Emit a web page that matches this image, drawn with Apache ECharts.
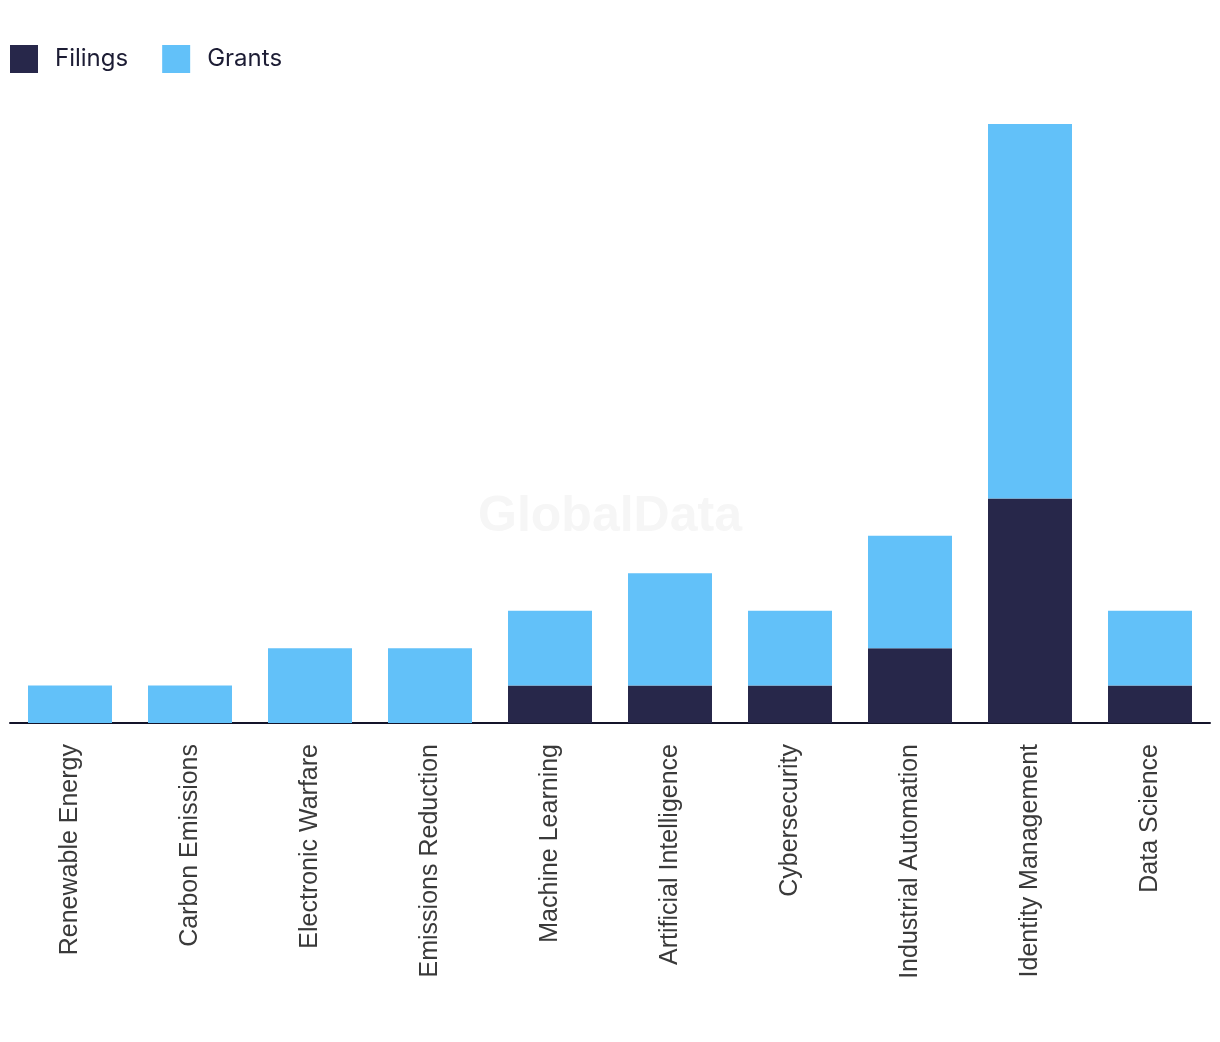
<!DOCTYPE html>
<html><head><meta charset="utf-8">
<script src="https://cdn.jsdelivr.net/npm/echarts@6/dist/echarts.min.js"></script>
<style>html,body{margin:0;padding:0;background:#fff}#c{width:1220px;height:1042px}</style>
</head><body><div id="c"></div>
<script>
const categories = ["Renewable Energy","Carbon Emissions","Electronic Warfare","Emissions Reduction","Machine Learning","Artificial Intelligence","Cybersecurity","Industrial Automation","Identity Management","Data Science"];
const filings = [0,0,0,0,1,1,1,2,6,1];
const grants = [1,1,2,2,2,3,2,3,10,2];

const chart = echarts.init(document.getElementById('c'));
chart.setOption({
  animation:false,
  graphic:[{type:'text',left:'center',top:492,z:-1,style:{text:'GlobalData',font:'bold 50px "Liberation Sans", Arial, sans-serif',fill:'#f6f6f6'}}],
  legend:{left:10,top:45,padding:0,itemWidth:28,itemHeight:28,itemGap:34,icon:'rect',
    textStyle:{fontFamily:'Inter, "Noto Sans", sans-serif',fontSize:24,color:'#1c1c34',padding:[0,0,0,12]},
    data:['Filings','Grants']},
  grid:{left:10,right:10,top:124,bottom:319,containLabel:false},
  xAxis:{type:'category',data:categories,
    axisLine:{lineStyle:{color:'#14142a',width:2}},axisTick:{show:false},
    axisLabel:{rotate:90,fontSize:25,color:'#3a3a3a',fontFamily:'"Liberation Sans", Arial, sans-serif',margin:21,interval:0}},
  yAxis:{type:'value',min:0,max:16,show:false,splitLine:{show:false}},
  series:[
    {name:'Filings',type:'bar',stack:'a',data:filings,barWidth:'70%',itemStyle:{color:'#27274a'}},
    {name:'Grants',type:'bar',stack:'a',data:grants,barWidth:'70%',itemStyle:{color:'#62c1f9'}}
  ]
});
</script></body></html>
